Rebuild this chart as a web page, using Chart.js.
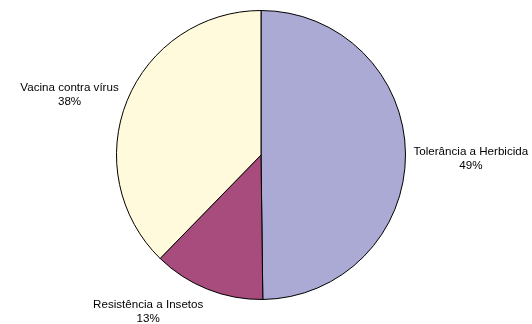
<!DOCTYPE html>
<html><head><meta charset="utf-8">
<script src="https://cdn.jsdelivr.net/npm/chart.js@4/dist/chart.umd.min.js"></script>
<style>html,body{margin:0;padding:0;background:#fff}#w{width:532px;height:324px}</style>
</head><body><div id="w"><canvas id="c" width="532" height="324"></canvas></div>
<script>
const categories = ["Tolerância a Herbicida", "Resistência a Insetos", "Vacina contra vírus"];
const values = [49.8, 12.5, 37.7];
const pctLabels = ["49%", "13%", "38%"];
const colors = ["#AAAAD5", "#A84B7D", "#FFFADC"];

const labelPlugin = {
  id: 'outLabels',
  afterDatasetsDraw(chart, args, opts) {
    const ctx = chart.ctx;
    const meta = chart.getDatasetMeta(0);
    ctx.save();
    ctx.font = '11.6px "Liberation Sans", Arial, sans-serif';
    ctx.fillStyle = '#000';
    ctx.textAlign = 'center';
    ctx.textBaseline = 'middle';
    meta.data.forEach((arc, i) => {
      const p = arc.getProps(['x','y','startAngle','endAngle','outerRadius'], true);
      const mid = (p.startAngle + p.endAngle) / 2;
      const dx = Math.cos(mid), dy = Math.sin(mid);
      const r = p.outerRadius + opts.gap;
      const lines = [categories[i], pctLabels[i]];
      const w = Math.max(...lines.map(t => ctx.measureText(t).width));
      const h = opts.lineH * lines.length;
      const n = opts.nudge[i];
      const cx = p.x + dx * r + dx * w / 2 + n[0];
      const cy = p.y + dy * r + dy * h / 2 + n[1];
      lines.forEach((t, k) => {
        ctx.fillText(t, cx, cy - h / 2 + opts.lineH * (k + 0.5));
      });
    });
    ctx.restore();
  }
};

new Chart(document.getElementById('c'), {
  type: 'pie',
  data: {
    labels: categories,
    datasets: [{
      data: values,
      backgroundColor: colors,
      borderColor: '#000',
      borderWidth: 1
    }]
  },
  options: {
    responsive: false,
    animation: false,
    layout: { padding: { top: 10, bottom: 24, left: 100, right: 110 } },
    plugins: {
      legend: { display: false },
      tooltip: { enabled: false },
      outLabels: { gap: 6, lineH: 14, nudge: [[2, 4.5], [-36.5, 4.5], [-6.5, 2]] }
    }
  },
  plugins: [labelPlugin]
});
</script></body></html>
